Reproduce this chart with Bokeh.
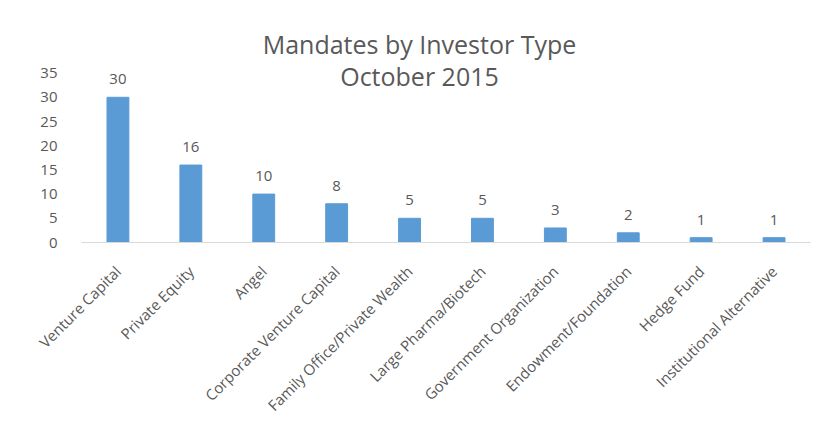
from bokeh.plotting import figure
from bokeh.models import ColumnDataSource, FactorRange, Range1d, FixedTicker, Label, LabelSet
from bokeh.core.properties import value
from bokeh.embed import file_html
from bokeh.resources import INLINE
import math

categories = ["Venture Capital", "Private Equity", "Angel", "Corporate Venture Capital",
              "Family Office/Private Wealth", "Large Pharma/Biotech", "Government Organization",
              "Endowment/Foundation", "Hedge Fund", "Institutional Alternative"]
mandates = [30, 16, 10, 8, 5, 5, 3, 2, 1, 1]
y_ticks = [0, 5, 10, 15, 20, 25, 30, 35]
title_lines = ["Mandates by Investor Type", "October 2015"]

FONT = "Open Sans"
TXT = "#595959"
BAR = "#5B9BD5"

src = ColumnDataSource(dict(cat=categories, val=mandates, lbl=[str(v) for v in mandates]))

# y range extends above the 35 tick so the title area lies inside the frame (no clipping)
p = figure(x_range=FactorRange(*categories, range_padding=0), y_range=Range1d(0, 50),
           width=819, height=424, output_backend="svg", toolbar_location=None,
           min_border_left=81, min_border_right=9, min_border_top=0, min_border_bottom=181)

p.vbar(x="cat", top="val", width=0.3, source=src, fill_color=BAR, line_color=BAR)

labels = LabelSet(x="cat", y="val", text="lbl", source=src, text_align="center",
                  text_baseline="bottom", y_offset=13, text_font=value(FONT),
                  text_font_size="15px", text_color=value(TXT))
p.add_layout(labels)

p.xgrid.visible = False
p.ygrid.visible = False
p.outline_line_color = None

p.yaxis.ticker = FixedTicker(ticks=y_ticks)
p.yaxis.axis_line_color = None
p.yaxis.major_tick_line_color = None
p.yaxis.minor_tick_line_color = None
p.yaxis.major_label_text_font = FONT
p.yaxis.major_label_text_font_size = "15px"
p.yaxis.major_label_text_color = TXT
p.yaxis.major_label_standoff = 18

p.xaxis.axis_line_color = "#D9D9D9"
p.xaxis.axis_line_width = 1
p.xaxis.major_tick_line_color = None
p.xaxis.minor_tick_line_color = None
p.xaxis.major_label_orientation = math.pi / 4
p.xaxis.major_label_text_font = FONT
p.xaxis.major_label_text_font_size = "15px"
p.xaxis.major_label_text_color = TXT
p.xaxis.major_label_standoff = 20

for i, t in enumerate(title_lines):
    p.add_layout(Label(x=338, y=199 - 32 * i, x_units="screen", y_units="screen", text=t,
                       text_align="center", text_baseline="middle", text_font=FONT,
                       text_font_size="25px", text_color=TXT))

open("out.html", "w").write(file_html(p, INLINE))
